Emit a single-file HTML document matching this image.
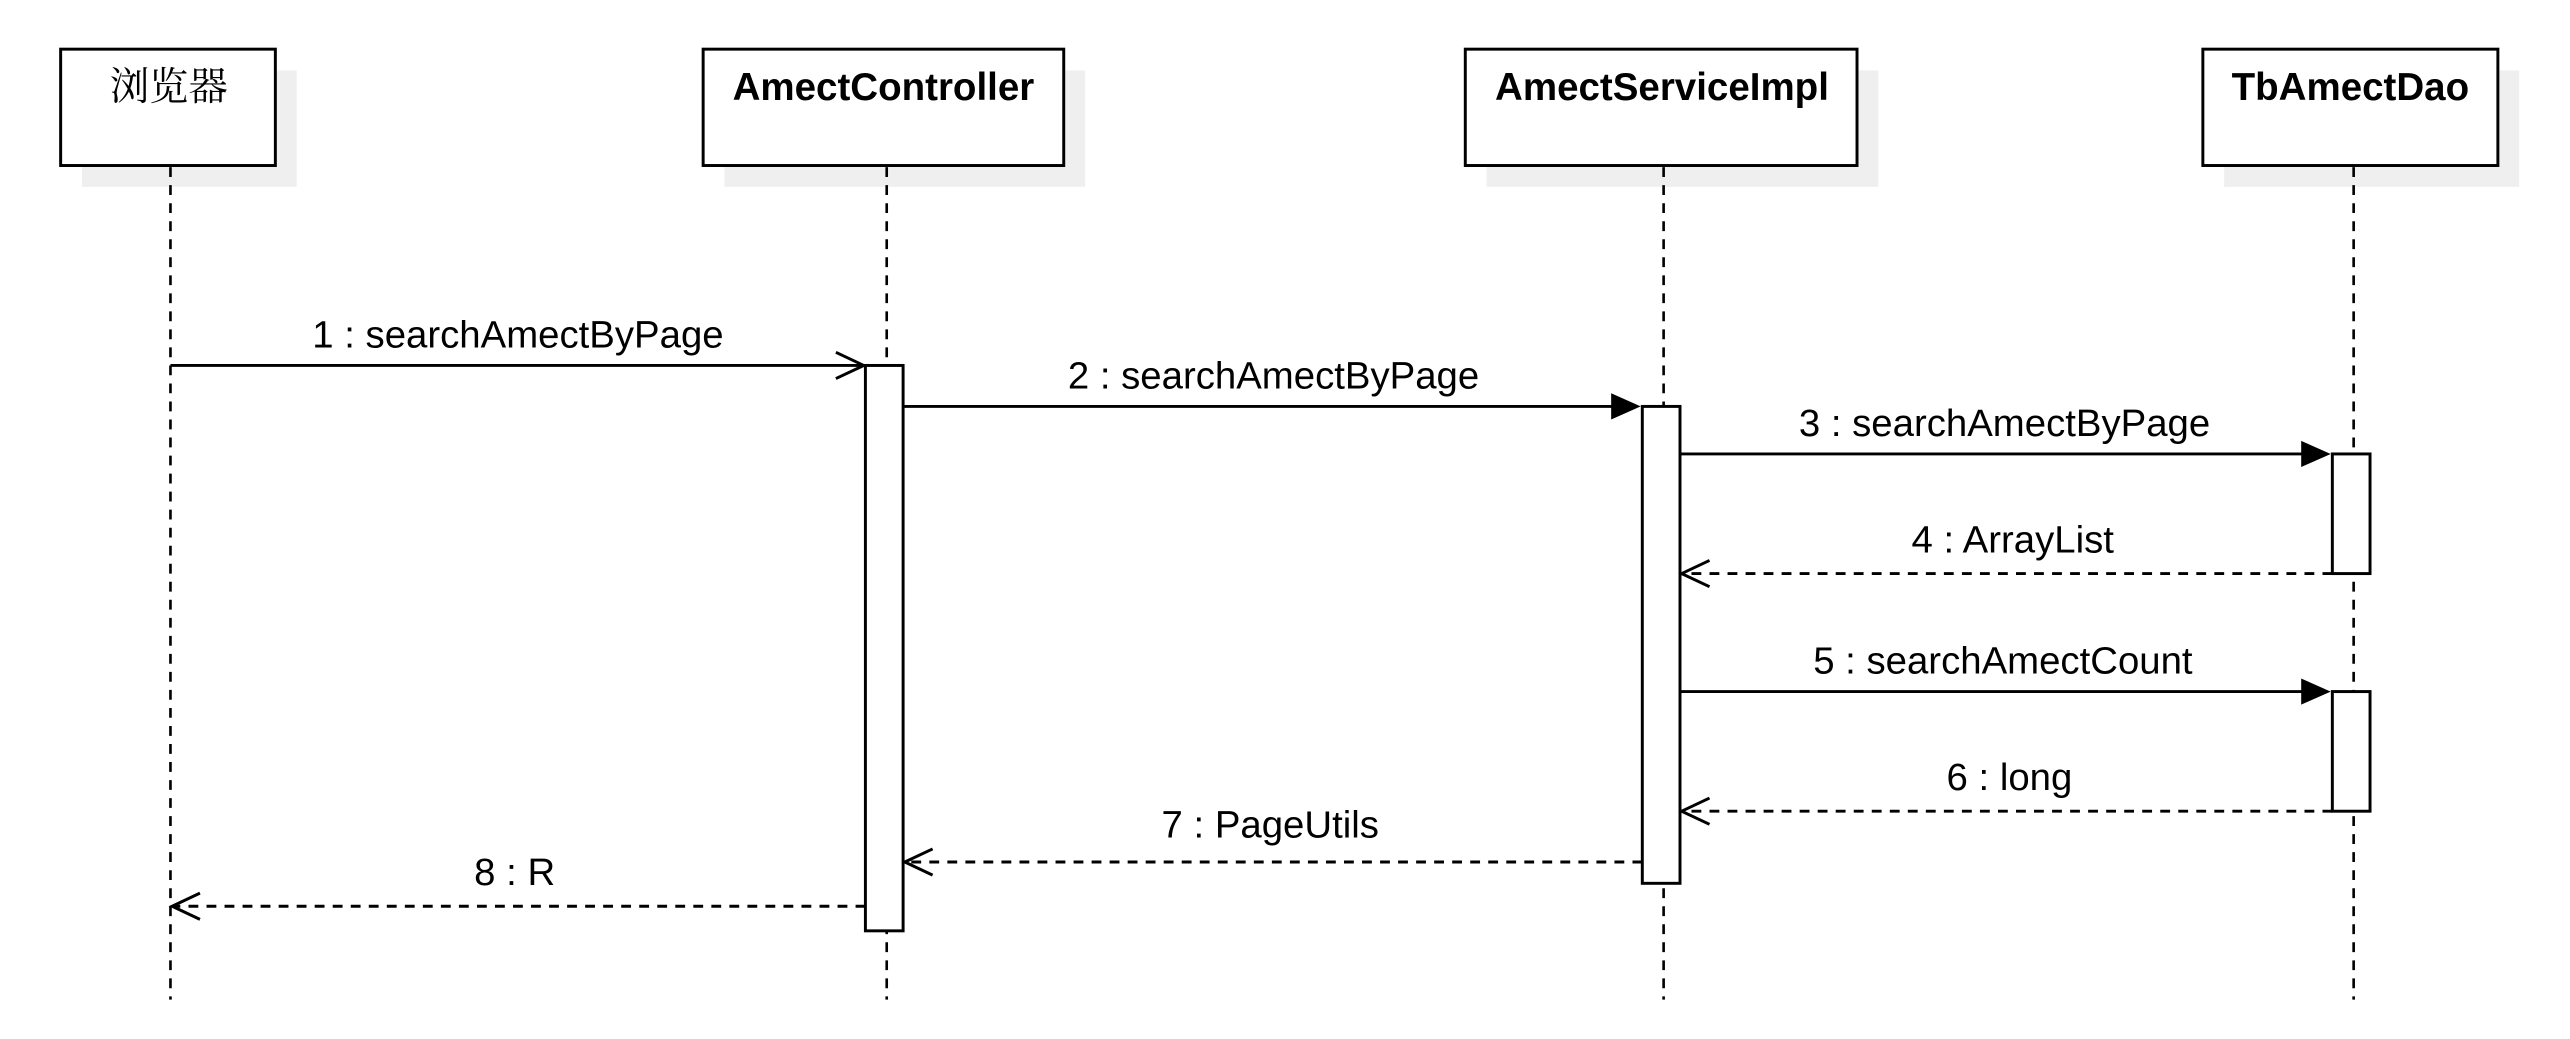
<!DOCTYPE html>
<html><head><meta charset="utf-8"><style>html,body{margin:0;padding:0;background:#fff}svg{display:block}</style></head>
<body>
<svg width="2570" height="1039" viewBox="0 0 1568 634" preserveAspectRatio="none" xmlns="http://www.w3.org/2000/svg" font-family="'Liberation Sans','Noto Sans CJK SC',sans-serif">
<g fill="#efefef">
<rect x="50" y="43" width="131" height="71"/>
<rect x="442" y="43" width="220" height="71"/>
<rect x="907" y="43" width="239" height="71"/>
<rect x="1357" y="43" width="180" height="71"/>
</g>
<g fill="#fff" stroke="#000" stroke-width="1.8">
<rect x="37" y="30" width="131" height="71"/>
<rect x="429" y="30" width="220" height="71"/>
<rect x="894" y="30" width="239" height="71"/>
<rect x="1344" y="30" width="180" height="71"/>
</g>
<g font-size="23.5" text-anchor="middle">
<text x="103" y="61" font-size="24" font-family="'Noto Serif CJK SC',serif">浏览器</text>
<text x="539" y="61" font-weight="bold">AmectController</text>
<text x="1014" y="61" font-weight="bold">AmectServiceImpl</text>
<text x="1434" y="61" font-weight="bold">TbAmectDao</text>
</g>
<g stroke="#000" stroke-width="1.6" stroke-dasharray="6,5">
<line x1="104" y1="102" x2="104" y2="610"/>
<line x1="541" y1="102" x2="541" y2="610"/>
<line x1="1015" y1="102" x2="1015" y2="610"/>
<line x1="1436" y1="102" x2="1436" y2="610"/>
</g>
<g fill="#fff" stroke="#000" stroke-width="1.8">
<rect x="528" y="223" width="23" height="345"/>
<rect x="1002" y="248" width="23" height="291"/>
<rect x="1423" y="277" width="23" height="73"/>
<rect x="1423" y="422" width="23" height="73"/>
</g>
<g stroke="#000" stroke-width="1.8" fill="none">
<line x1="104" y1="223" x2="527" y2="223"/>
<polyline points="510,215 527,223 510,231"/>
<line x1="551" y1="248" x2="985" y2="248"/>
<line x1="1025" y1="277" x2="1406" y2="277"/>
<line x1="1025" y1="422" x2="1406" y2="422"/>
<g stroke-dasharray="6,5">
<line x1="1423" y1="350" x2="1027" y2="350"/>
<line x1="1423" y1="495" x2="1027" y2="495"/>
<line x1="1002" y1="526" x2="553" y2="526"/>
<line x1="528" y1="553" x2="106" y2="553"/>
</g>
<polyline points="1043,342 1026,350 1043,358"/>
<polyline points="1043,487 1026,495 1043,503"/>
<polyline points="569,518 552,526 569,534"/>
<polyline points="122,545 105,553 122,561"/>
</g>
<g fill="#000">
<polygon points="983,240 1001,248 983,256"/>
<polygon points="1404,269 1422,277 1404,285"/>
<polygon points="1404,414 1422,422 1404,430"/>
</g>
<g font-size="23.4" text-anchor="middle" fill="#000">
<text x="316" y="212">1 : searchAmectByPage</text>
<text x="777" y="237">2 : searchAmectByPage</text>
<text x="1223" y="266">3 : searchAmectByPage</text>
<text x="1228" y="337">4 : ArrayList</text>
<text x="1222" y="411">5 : searchAmectCount</text>
<text x="1226" y="482">6 : long</text>
<text x="775" y="511">7 : PageUtils</text>
<text x="314" y="540">8 : R</text>
</g>
</svg>
</body></html>
